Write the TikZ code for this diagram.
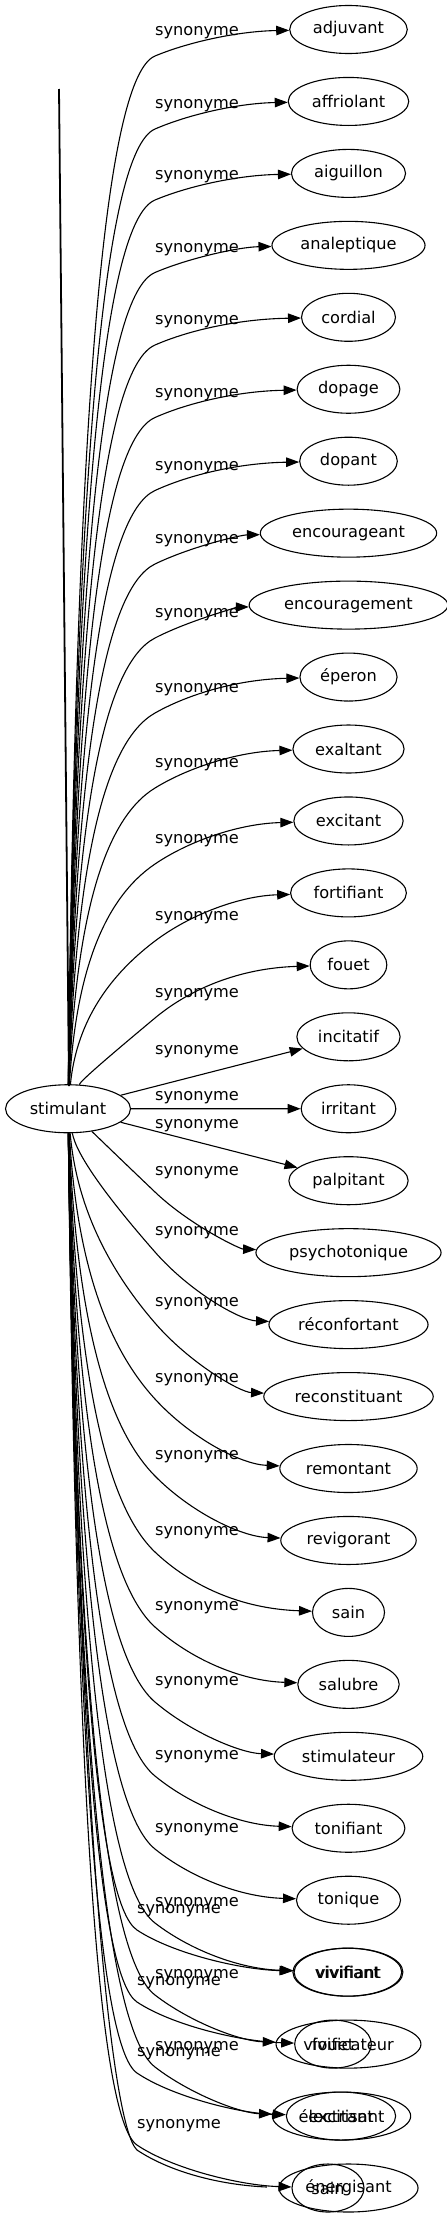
\documentclass[tikz,border=0pt]{standalone}
\usepackage{fontspec}
\setmainfont{DejaVu Sans}
\usetikzlibrary{shapes.geometric,arrows.meta}
\tikzset{
  syn/.style={ellipse, draw, line width=1.1pt, inner xsep=6pt, inner ysep=3pt,
    minimum width=72pt, minimum height=48pt, font=\fontsize{16.2}{19}\selectfont},
  lab/.style={inner sep=0pt, font=\fontsize{16.2}{19}\selectfont},
  edge/.style={line width=1.1pt, -{Triangle[length=13pt,width=9.5pt]}},
  plainedge/.style={line width=1.1pt},
}
% #1 target, #2 Qx, #3 Qy, #4 target y, #5 style
\newcommand\curveedge[5]{%
  \pgfmathsetmacro\slp{0.55*(#4-#3)/35}%
  \pgfmathsetmacro\iyraw{#3-(#2-78)*\slp}%
  \pgfmathsetmacro\up{(#3<1108.75) ? 1 : 0}%
  \pgfmathsetmacro\sy{(\up>0.5) ? 1085 : 1132}%
  \pgfmathsetmacro\clmp{(\up>0.5) ? (\iyraw>1078) : (\iyraw<1139)}%
  \pgfmathsetmacro\iy{(\up>0.5) ? min(\iyraw,1078) : max(\iyraw,1139)}%
  \pgfmathsetmacro\ix{(\clmp>0.5) ? (#2-(#3-\iy)/\slp) : 78}%
  \pgfmathsetmacro\cax{\ix-2}%
  \pgfmathsetmacro\cay{\sy+0.667*(\iy-\sy)}%
  \pgfmathsetmacro\cbx{#2-0.667*(#2-\ix)}%
  \pgfmathsetmacro\cby{#3+0.667*(\iy-#3)}%
  \pgfmathsetmacro\ccx{#2+35}%
  \pgfmathsetmacro\ccy{#3+0.55*(#4-#3)}%
  \pgfmathsetmacro\cdy{#4+0.06*(#3-#4)}%
  \draw[#5] (stim) .. controls (\cax,\cay) and (\cbx,\cby) .. (#2,#3) .. controls (\ccx,\ccy) and (240,\cdy) .. (#1);
}
\begin{document}
\begin{tikzpicture}[x=1pt,y=-1pt]
\useasboundingbox (0,0) rectangle (447,2219);

\node[syn] (stim) at (68,1108.75) {stimulant};

\foreach \t [count=\i from 0] in {adjuvant,affriolant,aiguillon,analeptique,cordial,dopage,dopant,encourageant,encouragement,éperon,exaltant,excitant,fortifiant,fouet,incitatif,irritant,palpitant,psychotonique,réconfortant,reconstituant,remontant,revigorant,sain,salubre,stimulateur,tonifiant,tonique,vivifiant,vivificateur}
  \node[syn] (n\i) at (348.5,{29.5+71.95*\i}) {\t};

\node[syn] (n29) at (341.5,2116.05) {électrisant};
\node[syn] (n30) at (348.5,2188) {énergisant};
\node[syn] (v2) at (347.3,1972.15) {vivifiant};
\node[syn] (f2) at (333,2044.1) {fouet};
\node[syn] (x2) at (341,2116.05) {excitant};
\node[syn] (s2) at (328,2188) {sain};

% thick vertical stroke
\coordinate (vtop) at (59,89);
\coordinate (vbot) at (69,1086);
\draw[line width=1.8pt] (vtop) -- (vbot);

% upper edges
\foreach \i/\L in {0/33,1/106,2/177,3/249.5,4/322,5/394.5,6/467.5,7/541,8/615,9/690,10/765,11/841,12/918,13/995} {
  \pgfmathsetmacro\ty{29.5+71.95*\i}
  \pgfmathsetmacro\qy{\L+23}
  \curveedge{n\i}{155}{\qy}{\ty}{edge}
  \node[lab] (l\i) at (197,\L) {synonyme};
}

% straight edges
\draw[edge] (stim) -- (n14);
\node[lab] (l14) at (197,1052) {synonyme};
\draw[edge] (stim) -- (n15);
\node[lab] (l15) at (197,1098) {synonyme};
\draw[edge] (stim) -- (n16);
\node[lab] (l16) at (197,1126) {synonyme};

% lower edges
\foreach \i/\L in {17/1173,18/1233,19/1304,20/1380,21/1457,22/1533,23/1608,24/1683,25/1757,26/1830,27/1904,28/1976,29/2048} {
  \pgfmathsetmacro\ty{29.5+71.95*\i}
  \pgfmathsetmacro\qy{\L+19}
  \curveedge{n\i}{155}{\qy}{\ty}{edge}
  \node[lab] (l\i) at (197,\L) {synonyme};
}

% second group
\foreach \n/\L/\ty in {v2/1911/1972.15,f2/1983/2044.1,x2/2054/2116.05,s2/2126/2188} {
  \pgfmathsetmacro\qy{\L+19}
  \curveedge{\n}{137}{\qy}{\ty}{edge}
  \node[lab] (m\n) at (179,\L) {synonyme};
}

% edge without head towards énergisant
\coordinate (eend) at (267,2187);
\draw[plainedge] (stim) .. controls (78,1800) and (110,2125) .. (137,2150) .. controls (170,2172) and (220,2185) .. (eend);

\end{tikzpicture}
\end{document}
